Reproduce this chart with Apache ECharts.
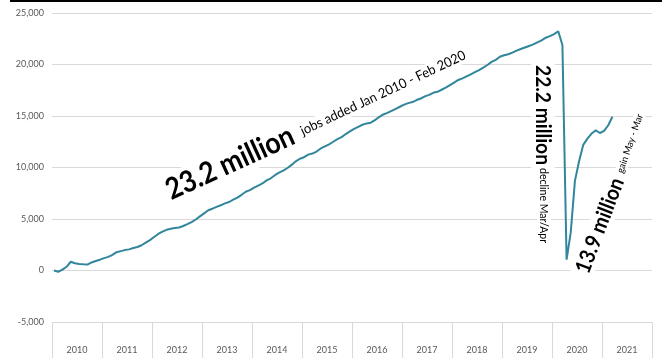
<!DOCTYPE html>
<html><head><meta charset="utf-8">
<script src="https://cdn.jsdelivr.net/npm/echarts@6/dist/echarts.min.js"></script>
<style>html,body{margin:0;padding:0;background:#fff}#c{width:662px;height:358px}</style>
</head><body><div id="c"></div>
<script>
// Cumulative change in nonfarm payroll jobs since Jan 2010 (thousands), monthly Jan 2010 - Mar 2021
const v2010 = [0, -120, 80, 360, 850, 700, 640, 600, 580, 780, 920, 1050];
const v2011 = [1200, 1320, 1520, 1780, 1880, 1980, 2050, 2180, 2280, 2450, 2700, 2950];
const v2012 = [3250, 3550, 3780, 3950, 4050, 4120, 4180, 4320, 4500, 4700, 4950, 5250];
const v2013 = [5550, 5850, 6000, 6180, 6330, 6520, 6650, 6880, 7080, 7350, 7650, 7800];
const v2014 = [8050, 8250, 8450, 8750, 8950, 9250, 9500, 9700, 9950, 10250, 10600, 10850];
const v2015 = [11000, 11250, 11350, 11550, 11850, 12050, 12250, 12500, 12750, 12950, 13250, 13500];
const v2016 = [13750, 13950, 14150, 14280, 14350, 14600, 14900, 15150, 15300, 15500, 15700, 15900];
const v2017 = [16100, 16250, 16350, 16550, 16700, 16900, 17050, 17250, 17350, 17550, 17750, 18000];
const v2018 = [18250, 18500, 18650, 18850, 19050, 19250, 19450, 19700, 19950, 20250, 20450, 20750];
const v2019 = [20900, 21000, 21150, 21350, 21500, 21650, 21800, 21950, 22150, 22350, 22600, 22750];
const v2020 = [22950, 23230, 21900, 1050, 3700, 8700, 10600, 12200, 12800, 13300, 13600, 13350];
const v2021 = [13550, 14100, 14930];

const years = ['2010','2011','2012','2013','2014','2015','2016','2017','2018','2019','2020','2021'];
const yTicks = {min: -5000, max: 25000, interval: 5000};

const annBig1 = '23.2 million', annSmall1 = 'jobs added Jan 2010 - Feb 2020';
const annBig2 = '22.2 million', annSmall2 = 'decline Mar/Apr';
const annBig3 = '13.9 million', annSmall3 = 'gain May - Mar';

const values = [].concat(v2010, v2011, v2012, v2013, v2014, v2015, v2016, v2017, v2018, v2019, v2020, v2021);
const months = [];
years.forEach(y => { for (let m = 1; m <= 12; m++) months.push(y + '-' + m); });

const FONT = 'Lato';
const ctx = document.createElement('canvas').getContext('2d');
function fitSize(text, weight, target) {
  ctx.font = weight + ' 100px ' + FONT;
  return 100 * target / ctx.measureText(text).width;
}
function ann(text, weight, cx, cy, deg, len, sy) {
  const fs = fitSize(text, weight, len);
  return {
    type: 'text', x: cx, y: cy, rotation: deg * Math.PI / 180, scaleY: sy || 1, z: 100,
    style: {
      text: text, fill: '#000', font: weight + ' ' + fs.toFixed(2) + 'px ' + FONT,
      textAlign: 'center', textVerticalAlign: 'middle',
      backgroundColor: '#fff', padding: [1, 3]
    }
  };
}

const chart = echarts.init(document.getElementById('c'), null, {renderer: 'canvas'});
chart.setOption({
  animation: false,
  backgroundColor: '#fff',
  grid: {left: 52, right: 10, top: 13, bottom: 36, containLabel: false},
  xAxis: [
    {type: 'category', data: months, boundaryGap: true, show: false},
    {type: 'category', data: years, boundaryGap: true, position: 'bottom',
     axisLine: {show: false},
     axisTick: {show: true, length: 40, lineStyle: {color: '#d9d9d9', width: 1}},
     axisLabel: {margin: 24, fontSize: 9, color: '#595959', fontFamily: FONT},
     splitLine: {show: false}}
  ],
  yAxis: {
    type: 'value', min: yTicks.min, max: yTicks.max, interval: yTicks.interval,
    axisLine: {show: false}, axisTick: {show: false},
    axisLabel: {fontSize: 9, color: '#595959', fontFamily: FONT, margin: 8,
      formatter: v => v.toLocaleString('en-US')},
    splitLine: {lineStyle: {color: '#d9d9d9', width: 1}}
  },
  series: [{
    type: 'line', xAxisIndex: 0, data: values, showSymbol: false, symbol: 'none',
    lineStyle: {color: '#31869b', width: 2}, z: 5
  }],
  graphic: [
    {type: 'rect', shape: {x: 10, y: 0, width: 652, height: 2}, style: {fill: '#000'}, z: 100},
    ann(annBig1, 'bold', 230, 163, 24.5, 138, 1.12),
    ann(annSmall1, 'normal', 383, 93, 25.2, 181, 1.05),
    ann(annBig2, 'bold', 543, 115, -90, 100, 1.12),
    ann(annSmall2, 'normal', 544, 205.5, -90, 75, 1.05),
    ann(annBig3, 'bold', 600, 225.5, 69, 100, 1.12),
    ann(annSmall3, 'normal', 630, 143.5, 71, 62, 1.05)
  ]
});
</script></body></html>
